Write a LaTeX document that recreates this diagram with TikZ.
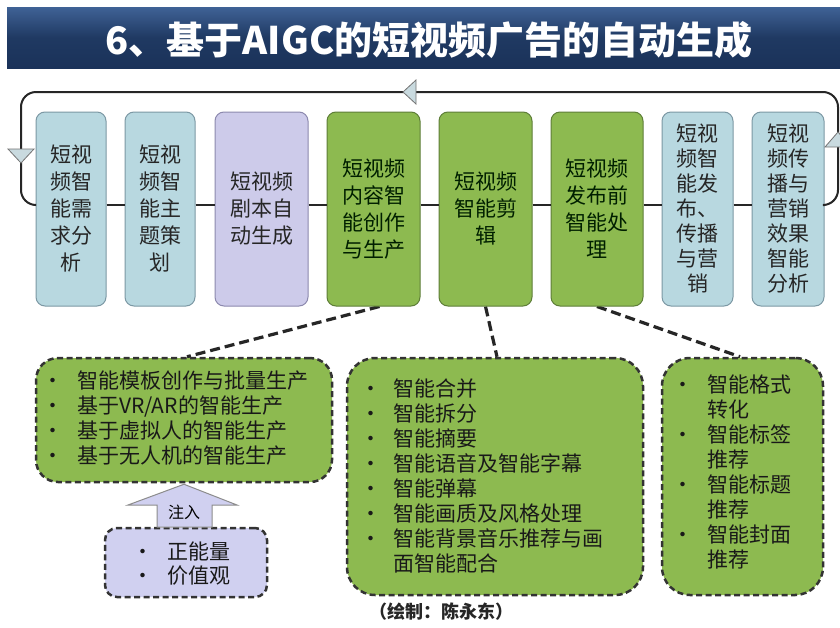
\documentclass[tikz,border=0pt]{standalone}
\usepackage{fontspec}
\setmainfont{Noto Sans CJK SC}
\usetikzlibrary{backgrounds}
\definecolor{bluebox}{HTML}{B8D8E0}
\definecolor{bluedraw}{HTML}{7C98A4}
\definecolor{lavbox}{HTML}{CDCBEA}
\definecolor{lavdraw}{HTML}{8C89AE}
\definecolor{greenbox}{HTML}{8DBA50}
\definecolor{greendraw}{HTML}{5E7E38}
\definecolor{titletop}{HTML}{3F6296}
\definecolor{titlebot}{HTML}{1A3259}
\definecolor{tribox}{HTML}{C9DADF}
\definecolor{purplebox}{HTML}{D0D0F0}
\newcommand\bulit[1]{\makebox[0pt]{\textbullet}\hspace*{#1}}
\begin{document}
\begin{tikzpicture}[x=1pt,y=-1pt,
  topbox/.style={rounded corners=9pt, line width=1pt, minimum height=194pt, inner sep=0pt, align=center, font=\fontsize{21}{27}\selectfont, text=black!85},
  bluest/.style={fill=bluebox, draw=bluedraw},
  lavst/.style={fill=lavbox, draw=lavdraw},
  greenst/.style={fill=greenbox, draw=greendraw, text=black!80!green!60!black},
  loopline/.style={line width=2pt, draw=black!85},
  tri/.style={fill=tribox, draw=black!55, line width=0.8pt},
  dbox/.style={draw=black!80, line width=2.5pt, dash pattern=on 6pt off 3.5pt, rounded corners=22pt, fill=greenbox, inner sep=0pt},
  listtext/.style={anchor=west, inner sep=0pt, align=left, font=\fontsize{21}{25}\selectfont, text=black!90},
  conn/.style={line width=3.2pt, dash pattern=on 10pt off 5pt, draw=black!85}
]
\useasboundingbox (0,0) rectangle (840,627);
% title bar
\shade[top color=titletop, bottom color=titlebot, middle color=titlebot!85!titletop] (7,7) rectangle (840,68);
\node[text=white, font=\fontsize{38}{38}\selectfont\bfseries, inner sep=0pt] (title) at (429,40) {6、基于AIGC的短视频广告的自动生成};

% top row boxes
\node[topbox, bluest, minimum width=70pt] (b1) at (71,209) {短视\\频智\\能需\\求分\\析};
\node[topbox, bluest, minimum width=70pt] (b2) at (160,209) {短视\\频智\\能主\\题策\\划};
\node[topbox, lavst, minimum width=93pt] (b3) at (261.5,209) {短视频\\剧本自\\动生成};
\node[topbox, greenst, minimum width=93pt] (b4) at (373.5,209) {短视频\\内容智\\能创作\\与生产};
\node[topbox, greenst, minimum width=93pt] (b5) at (485.5,209) {短视频\\智能剪\\辑};
\node[topbox, greenst, minimum width=92pt] (b6) at (597,209) {短视频\\发布前\\智能处\\理};
\node[topbox, bluest, minimum width=71pt, font=\fontsize{21}{25}\selectfont] (b7) at (697.5,209) {短视\\频智\\能发\\布、\\传播\\与营\\销};
\node[topbox, bluest, minimum width=72pt, font=\fontsize{21}{25}\selectfont] (b8) at (788,209) {短视\\频传\\播与\\营销\\效果\\智能\\分析};

% loop
\coordinate (lbl) at (21,205);
\coordinate (ltl) at (21,92);
\coordinate (ltr) at (838,92);
\coordinate (lbr) at (838,205);
\draw[loopline, rounded corners=15pt] ([yshift=4pt]b8.east) -- (lbr) -- (ltr) -- (ltl) -- (lbl) -- ([yshift=4pt]b1.west);
\foreach \a/\b in {b1/b2,b2/b3,b3/b4,b4/b5,b5/b6,b6/b7,b7/b8}
  \draw[loopline] ([yshift=4pt]\a.east) -- ([yshift=4pt]\b.west);
% loop arrowheads
\draw[tri] (403,92) -- (416,80) -- (416,104) -- cycle;
\draw[tri] (21,163) -- (8,149) -- (34,149) -- cycle;
\draw[tri] (838,132) -- (825,147) -- (851,147) -- cycle;

% bottom boxes
\node[dbox, minimum width=296pt, minimum height=124pt] (A) at (184,420) {};
\node[dbox, minimum width=296pt, minimum height=237pt, rounded corners=28pt] (B) at (495,476.5) {};
\node[dbox, minimum width=161pt, minimum height=237pt, rounded corners=28pt] (C) at (742.5,476.5) {};
\node[dbox, fill=purplebox, rounded corners=12pt, minimum width=162pt, minimum height=69pt] (P) at (186,562.5) {};

\node[listtext] (At) at (53,418.5) {\bulit{24pt}智能模板创作与批量生产\\\bulit{24pt}基于VR/AR的智能生产\\\bulit{24pt}基于虚拟人的智能生产\\\bulit{24pt}基于无人机的智能生产};
\node[listtext] (Bt) at (371,476) {\bulit{22pt}智能合并\\\bulit{22pt}智能拆分\\\bulit{22pt}智能摘要\\\bulit{22pt}智能语音及智能字幕\\\bulit{22pt}智能弹幕\\\bulit{22pt}智能画质及风格处理\\\bulit{22pt}智能背景音乐推荐与画\\\hspace*{22pt}面智能配合};
\node[listtext] (Ct) at (683,472) {\bulit{24pt}智能格式\\\hspace*{24pt}转化\\\bulit{24pt}智能标签\\\hspace*{24pt}推荐\\\bulit{24pt}智能标题\\\hspace*{24pt}推荐\\\bulit{24pt}智能封面\\\hspace*{24pt}推荐};
\node[listtext, font=\fontsize{21}{24}\selectfont] (Pt) at (143,564) {\bulit{24pt}正能量\\\bulit{24pt}价值观};

% inject arrow
\draw[fill=purplebox, draw=black!45, line width=1pt] ([yshift=-1pt]A.south) -- (237,505) -- (212,505) -- (212,527) -- (157,527) -- (157,505) -- (128,505) -- cycle;
\node[font=\fontsize{16}{16}\selectfont, inner sep=0pt] (zr) at (184,512) {注入};

% credit
\node[font=\fontsize{18}{18}\selectfont\bfseries, inner sep=0pt, text=black!85] (credit) at (441,612) {（绘制：陈永东）};

% background and dashed connectors
\begin{pgfonlayer}{background}
\fill[white] (0,0) rectangle (840,627);
\draw[conn] ([xshift=6pt]b4.south) -- ([xshift=3pt]A.north);
\draw[conn] (b5.south) -- ([xshift=2pt]B.north);
\draw[conn] (b6.south) -- ([xshift=-2.5pt]C.north);
\end{pgfonlayer}
\end{tikzpicture}
\end{document}
